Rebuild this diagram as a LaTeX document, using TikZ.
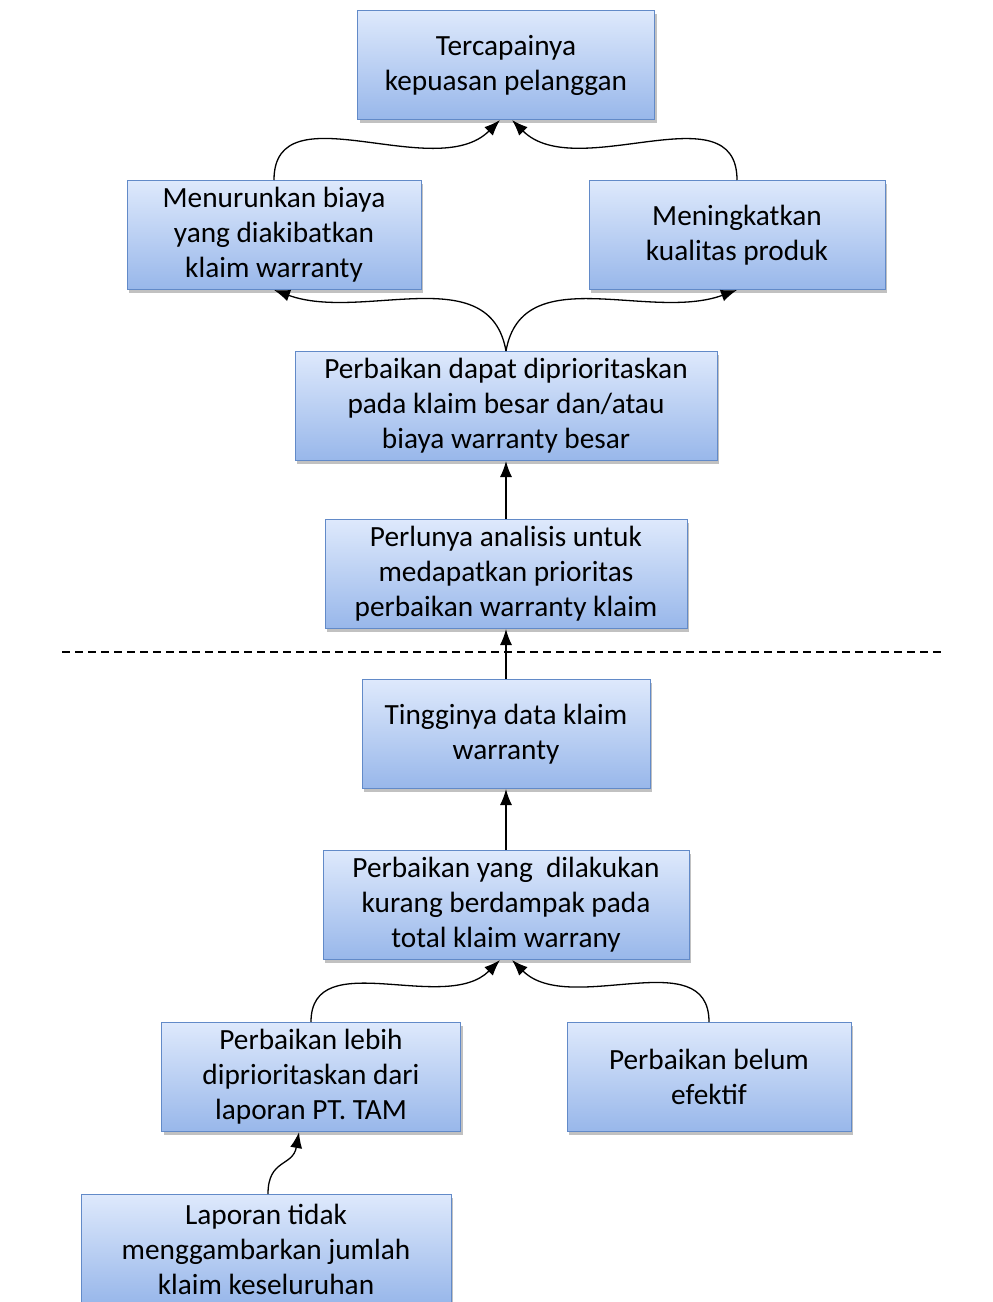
\documentclass[tikz,border=0pt]{standalone}
\usepackage{fontspec}
\setmainfont{Carlito}
\usetikzlibrary{shadows,arrows.meta}
\definecolor{boxtop}{RGB}{222,233,252}
\definecolor{boxbot}{RGB}{152,183,234}
\definecolor{boxline}{RGB}{98,138,200}
\begin{document}
\begin{tikzpicture}[x=1pt,y=-1pt,
  box/.style={draw=boxline, line width=1pt, top color=boxtop, bottom color=boxbot,
    align=center, inner sep=0pt, minimum height=109pt,
    font=\fontsize{29.3}{35}\selectfont,
    execute at begin node={\rule{0pt}{32pt}},
    drop shadow={shadow xshift=2pt, shadow yshift=-3pt, opacity=0.35, fill=black!70}},
  arr/.style={-{Latex[length=16pt,width=12pt]}, line width=1.3pt}]
\useasboundingbox (0,0) rectangle (993,1302);
\clip (0,0) rectangle (993,1302);

% goal level
\node[box, minimum width=297pt] (goal) at (506,65) {Tercapainya\\kepuasan pelanggan};
\node[box, minimum width=294pt] (cost) at (274,235) {Menurunkan biaya\\yang diakibatkan\\klaim warranty};
\node[box, minimum width=296pt] (qual) at (737,235) {Meningkatkan\\kualitas produk};

% analysis level
\node[box, minimum width=422pt] (prio) at (506,406) {Perbaikan dapat diprioritaskan\\pada klaim besar dan/atau\\biaya warranty besar};
\node[box, minimum width=362pt] (need) at (506,574) {Perlunya analisis untuk\\medapatkan prioritas\\perbaikan warranty klaim};

% separator between problem and solution
\coordinate (sepL) at (62,652);
\coordinate (sepR) at (943,652);
\draw[line width=1.2pt, dash pattern=on 8pt off 5pt] (sepL) -- (sepR);

% problem level
\node[box, minimum width=288pt] (high) at (506,734) {Tingginya data klaim\\warranty};
\node[box, minimum width=366pt] (weak) at (506,905) {Perbaikan yang\ \ dilakukan\\kurang berdampak pada\\total klaim warrany};
\node[box, minimum width=299pt] (tam) at (311,1077) {Perbaikan lebih\\diprioritaskan dari\\laporan PT. TAM};
\node[box, minimum width=284pt] (eff) at (709,1077) {Perbaikan belum\\efektif};
\node[box, minimum width=370pt] (rep) at (266,1249) {Laporan tidak\\menggambarkan jumlah\\klaim keseluruhan};

% connectors
\draw[arr] (cost.north) to[out=90, in=-135] ([xshift=-6pt]goal.south);
\draw[arr] (qual.north) to[out=90, in=-45] ([xshift=6pt]goal.south);
\draw[arr] (prio.north) to[out=100, in=-20] (cost.south);
\draw[arr] (prio.north) to[out=80, in=-160] (qual.south);
\draw[arr] (need.north) -- (prio.south);
\draw[arr] (high.north) -- (need.south);
\draw[arr] (weak.north) -- (high.south);
\draw[arr] (tam.north) to[out=90, in=-135] ([xshift=-6pt]weak.south);
\draw[arr] (eff.north) to[out=90, in=-45] ([xshift=6pt]weak.south);
\draw[arr] ([xshift=2pt]rep.north) to[out=90, in=-100, looseness=1.3] ([xshift=-12pt]tam.south);
\end{tikzpicture}
\end{document}
